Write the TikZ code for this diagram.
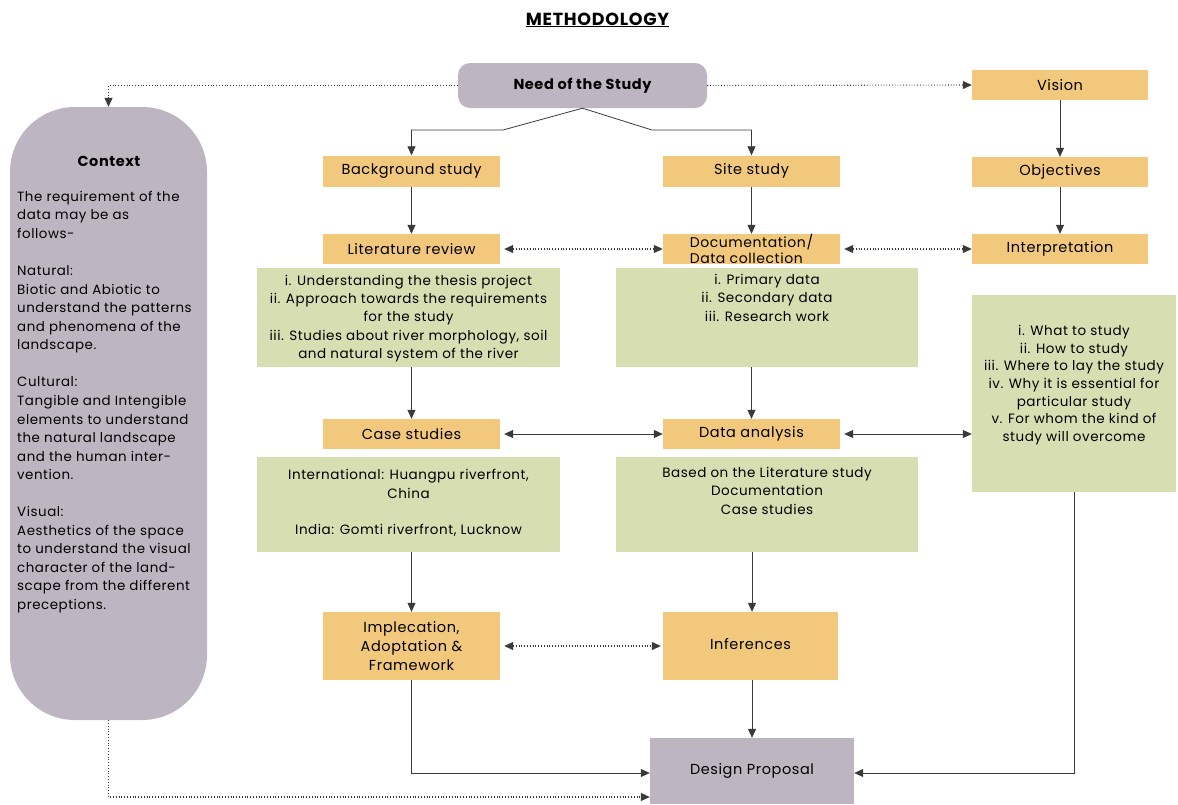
\documentclass[tikz,border=0pt]{standalone}
\usepackage{fontspec}
\setmainfont{Poppins}[LetterSpace=4]
\usetikzlibrary{arrows.meta,calc}
\definecolor{orangebox}{HTML}{F2C87C}
\definecolor{greenbox}{HTML}{D7DEB1}
\definecolor{purplebox}{HTML}{BEB5C2}
\definecolor{linec}{HTML}{3A3A3A}
\begin{document}
\begin{tikzpicture}[x=1pt,y=-1pt,
  font=\fontsize{14.5}{18}\selectfont,
  obox/.style={fill=orangebox, draw=none, inner sep=0pt, align=center, text=black},
  gbox/.style={fill=greenbox, draw=none, inner sep=0pt},
  gtext/.style={align=center, inner sep=0pt, font=\fontsize{13.5}{18.3}\selectfont},
  pbox/.style={fill=purplebox, draw=none, inner sep=0pt, align=center},
  arr/.style={draw=linec, line width=0.8pt, -{Triangle[length=9pt,width=8pt]}},
  darr/.style={draw=linec, line width=0.8pt, {Triangle[length=9pt,width=8pt]}-{Triangle[length=9pt,width=8pt]}},
  dotline/.style={dotted, line width=1.1pt}
]
\useasboundingbox (0,0) rectangle (1178,804);

% title
\node[font=\bfseries\fontsize{17.5}{20}\selectfont] (title) at (597.5,20) {\underline{METHODOLOGY}};

% top node
\node[pbox, rounded corners=12pt, minimum width=249pt, minimum height=45pt, font=\bfseries\fontsize{14.5}{15}\selectfont] (need) at (582.5,85.5) {Need of the Study};

% context pill
\node[pbox, rounded corners=65pt, minimum width=197pt, minimum height=613pt] (ctx) at (108.5,413.5) {};
\node[font=\bfseries\fontsize{14.5}{15}\selectfont, inner sep=0pt] (ctxtitle) at (109,161) {Context};
\node[anchor=north west, align=left, inner sep=0pt, font=\fontsize{13.4}{18.55}\selectfont] (ctxbody) at (17,191) {The requirement of the\\data may be as\\follows-\\[18.55pt]Natural:\\Biotic and Abiotic to\\understand the patterns\\and phenomena of the\\landscape.\\[18.55pt]Cultural:\\Tangible and Intengible\\elements to understand\\the natural landscape\\and the human inter-\\vention.\\[18.55pt]Visual:\\Aesthetics of the space\\to understand the visual\\character of the land-\\scape from the different\\preceptions.};

% right column
\node[obox, minimum width=176pt, minimum height=30pt] (vision) at (1060,85) {Vision};
\node[obox, minimum width=176pt, minimum height=30pt] (obj) at (1060,172) {Objectives};
\node[obox, minimum width=176pt, minimum height=30pt] (interp) at (1060,249) {Interpretation};

% left/middle columns
\node[obox, minimum width=177pt, minimum height=31pt] (bg) at (411.5,171) {Background study};
\node[obox, minimum width=177pt, minimum height=31pt] (site) at (751.5,171) {Site study};
\node[obox, minimum width=177pt, minimum height=30pt] (lit) at (411.5,249) {Literature review};
\node[obox, minimum width=177pt, minimum height=30pt, font=\fontsize{14}{16}\selectfont, align=left] (doc) at (751.5,249) {Documentation/\\Data collection};

\node[gbox, minimum width=303pt, minimum height=99pt] (g1) at (408.5,317.5) {};
\node[gtext] (g1t) at (408.5,318.5) {i. Understanding the thesis project\\ii. Approach towards the requirements\\for the study\\iii. Studies about river morphology, soil\\and natural system of the river};

\node[gbox, minimum width=302pt, minimum height=99pt] (g2) at (767,317.5) {};
\node[gtext, anchor=north] (g2t) at (767,274) {i. Primary data\\ii. Secondary data\\iii. Research work};

\node[gbox, minimum width=204pt, minimum height=197pt] (gr) at (1074,393.5) {};
\node[gtext, font=\fontsize{13.5}{17.6}\selectfont] (grt) at (1074,385) {i. What to study\\ii. How to study\\iii. Where to lay the study\\iv. Why it is essential for\\particular study\\v. For whom the kind of\\study will overcome};

\node[obox, minimum width=177pt, minimum height=30pt] (case) at (411.5,434) {Case studies};
\node[obox, minimum width=177pt, minimum height=30pt] (da) at (751.5,434) {Data analysis};

\node[gbox, minimum width=303pt, minimum height=95pt] (g3) at (408.5,504.5) {};
\node[gtext] (g3t) at (408.5,503) {International: Huangpu riverfront,\\China\\[18.3pt]India: Gomti riverfront, Lucknow};

\node[gbox, minimum width=302pt, minimum height=95pt] (g4) at (767,504.5) {};
\node[gtext, anchor=north] (g4t) at (767,467) {Based on the Literature study\\Documentation\\Case studies};

\node[obox, minimum width=177pt, minimum height=68pt, font=\fontsize{14.5}{19}\selectfont] (impl) at (411.5,646) {Implecation,\\Adoptation \&\\Framework};
\node[obox, minimum width=175pt, minimum height=68pt] (inf) at (750.5,646) {\raisebox{5pt}{Inferences}};

\node[pbox, minimum width=204pt, minimum height=66pt] (dp) at (752,771) {Design Proposal};

% connectors
\draw[arr] (need.south) -- (503,130) -| (bg.north);
\draw[arr] (need.south) -- (652,130) -| (site.north);
\draw[arr, dotline] (need.west) -| (ctx.north);
\draw[arr, dotline] (need.east) -- (vision.west);
\draw[arr] (vision) -- (obj);
\draw[arr] (obj) -- (interp);
\draw[arr] (bg) -- (lit);
\draw[arr] (site) -- (doc);
\draw[darr, dotline] ([xshift=4pt]lit.east) -- (doc.west);
\draw[darr, dotline] ([xshift=4pt]doc.east) -- (interp.west);
\draw[arr] (case.north |- g1.south) -- (case.north);
\draw[arr] (da.north |- g2.south) -- (da.north);
\draw[darr] ([xshift=4pt]case.east) -- (da.west);
\draw[darr] ([xshift=4pt]da.east) -- (da.east -| gr.west);
\draw[arr] (impl.north |- g3.south) -- (impl.north);
\draw[arr] (dp.north |- g4.south) -- (dp.north |- inf.north);
\draw[darr, dotline] ([xshift=4pt]impl.east) -- ([xshift=-2pt]inf.west);
\draw[arr] (dp.north |- inf.south) -- (dp.north);
\draw[arr] (impl.south) |- ([yshift=-2pt]dp.west);
\draw[arr] (gr.south) |- ([yshift=-2pt]dp.east);
\draw[arr, dotline] (ctx.south) |- ([yshift=-26pt]dp.west);
\end{tikzpicture}
\end{document}
